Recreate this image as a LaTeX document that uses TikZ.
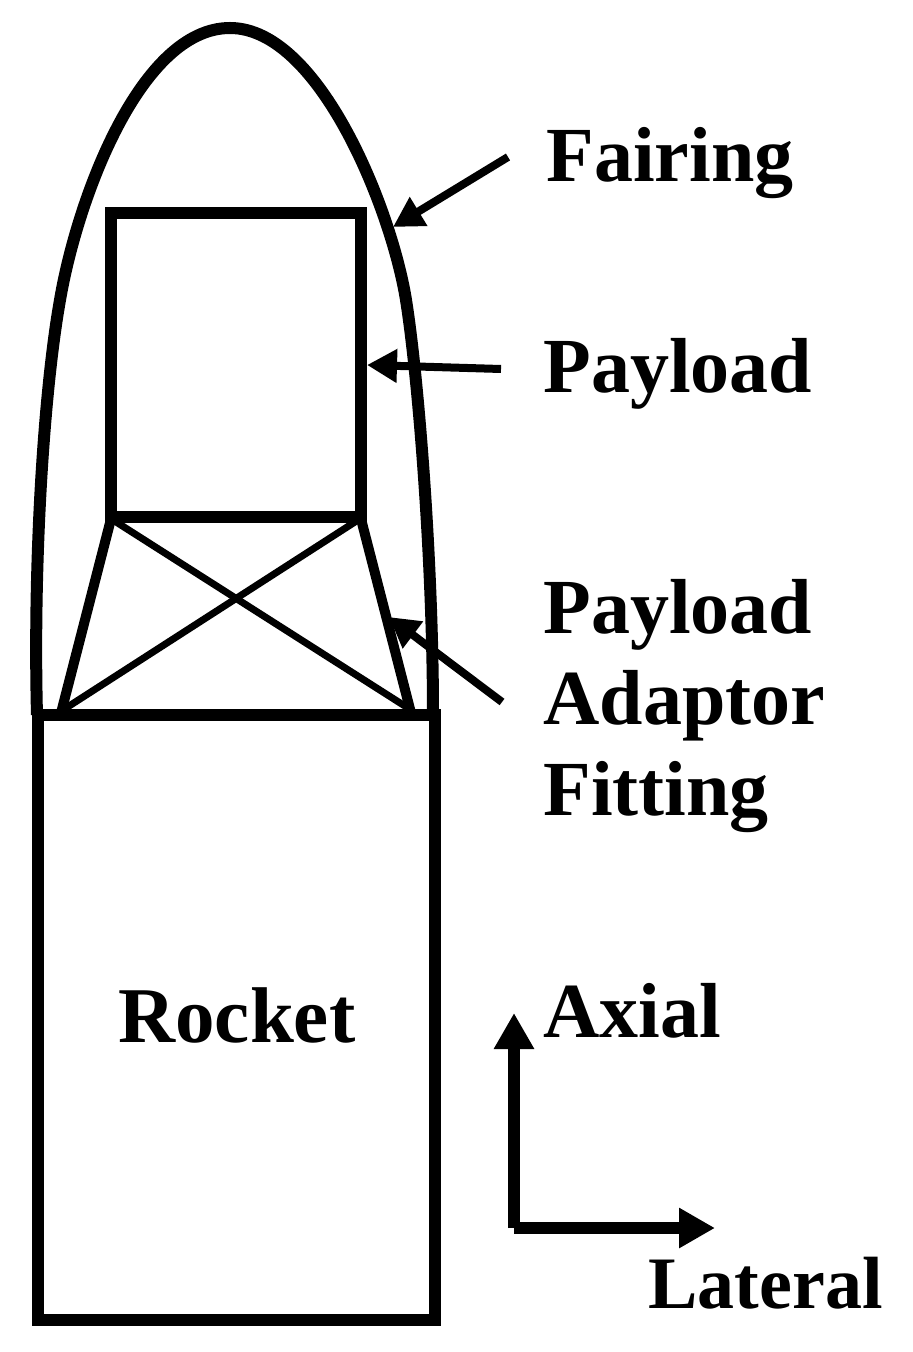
\documentclass[tikz,border=0pt]{standalone}
\usepackage{fontspec}
\setmainfont{Liberation Serif}
\usetikzlibrary{arrows.meta}
\tikzset{
    partline/.style = {
        line width=6pt,
        line join=miter
    },
    legline/.style = {
        line width=5pt,
        line cap=rect
    },
    strutline/.style = {
        line width=3.5pt
    },
    pointer/.style = {
        line width=4pt,
        -{Triangle[length=15pt,width=16pt]}
    },
    axisline/.style = {
        line width=6pt,
        -{Triangle[length=18pt,width=19pt]}
    },
    partlabel/.style = {
        font=\fontsize{39}{45.5}\selectfont\bfseries,
        align=left,
        inner sep=0pt,
        anchor=base west
    }
}
\begin{document}
\begin{tikzpicture}[x=0.5pt,y=-0.5pt]
    \useasboundingbox (0,0) rectangle (912,1352);
    % structure
    \node [draw,partline,minimum width=198.5pt,minimum height=302.5pt,inner sep=0pt] (rocket) at (236,1017.5) {};
    \node [draw,partline,minimum width=125pt,minimum height=152pt,inner sep=0pt] (payload) at (236,365) {};
    \coordinate (baseleft) at (37,715);
    \coordinate (baseright) at (433,715);
    \coordinate (legleft) at (61,713);
    \coordinate (legright) at (411,713);
    \draw [partline] (baseleft) .. controls (33,560) and (44,390) .. (60,300)
        .. controls (77,200) and (140,28) .. (230,28)
        .. controls (320,28) and (392,212) .. (406,300)
        .. controls (418,375) and (433,560) .. (baseright);
    \draw [legline] (111,519) -- (legleft);
    \draw [legline] (361,519) -- (legright);
    \draw [strutline] (113,520) -- (408,708);
    \draw [strutline] (358,520) -- (66,708);
    % labels
    \node [partlabel] (fairing) at (546,182) {Fairing};
    \node [partlabel] (payloadlabel) at (543,393) {Payload};
    \node [partlabel] (adaptor) at (543,815) {Payload\\Adaptor\\Fitting};
    \node [partlabel,font=\fontsize{39.5}{46}\selectfont\bfseries] (rocketlabel) at (118,1042) {Rocket};
    \node [partlabel] (axial) at (543,1037) {Axial};
    \node [partlabel,font=\fontsize{37}{46}\selectfont\bfseries] (lateral) at (648,1308) {Lateral};
    % pointers
    \coordinate (fairingtail) at (508,157);
    \coordinate (fairingtip) at (393,227);
    \coordinate (payloadtail) at (501,369);
    \coordinate (adaptortail) at (502,702);
    \coordinate (adaptortip) at (389,617);
    \draw [pointer] (fairingtail) -- (fairingtip);
    \draw [pointer] (payloadtail) -- (payload.east);
    \draw [pointer] (adaptortail) -- (adaptortip);
    % axes
    \coordinate (origin) at (514,1228);
    \coordinate (axialtip) at (514,1013);
    \coordinate (lateraltip) at (715,1228);
    \draw [axisline] (origin) -- (axialtip);
    \draw [axisline] (origin) -- (lateraltip);
\end{tikzpicture}
\end{document}
